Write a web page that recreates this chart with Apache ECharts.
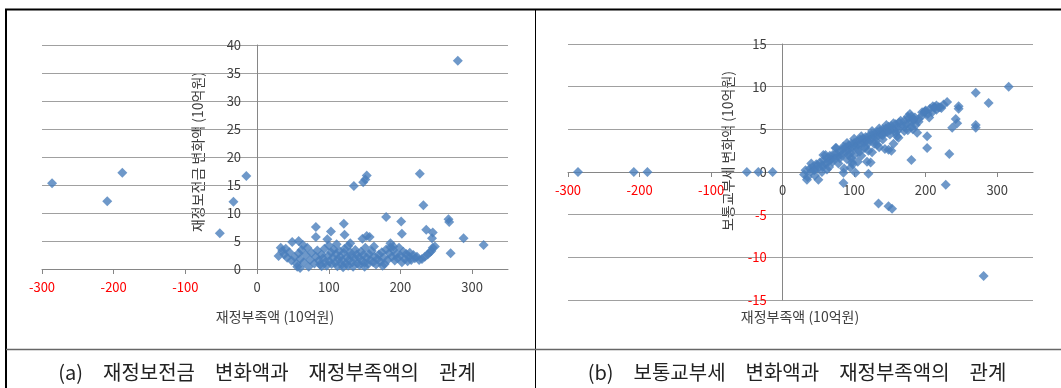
<!DOCTYPE html>
<html><head><meta charset="utf-8">
<script src="https://cdn.jsdelivr.net/npm/echarts@6/dist/echarts.min.js"></script>
<style>html,body{margin:0;padding:0;background:#fff}#c{width:1061px;height:388px}</style>
</head><body><div id="c"></div>
<script>
// ---- data ----
const xTitle = '재정부족액 (10억원)';
const yTitleA = '재정보전금 변화액 (10억원)';
const yTitleB = '보통교부세 변화액 (10억원)';
const captionA = '(a)\u3000재정보전금\u3000변화액과\u3000재정부족액의\u3000관계';
const captionB = '(b)\u3000보통교부세\u3000변화액과\u3000재정부족액의\u3000관계';

// panel (a): [재정부족액, 재정보전금 변화액]
const outliersA = [[-286,15.3],[-209,12.1],[-188,17.2],[-52,6.4],[-33,12.0],[-15,16.6],
  [135,14.8],[148,15.5],[151,16.0],[153,16.7],[227,17.0],[280,37.2],[232,11.4],[180,9.3],
  [201,8.5],[267,8.9],[268,8.4],[202,6.3],[236,7.0],[245,6.5],[244,5.5],[288,5.5],[316,4.3],
  [270,2.8],[82,7.5],[121,8.1],[103,6.7],[122,6.1],[82,5.7],[98,5.3],[130,4.6],[147,5.4],
  [153,5.9],[157,5.7],[49,4.8],[58,5.0],[33,3.8],[163,4.0],[30,2.3],[72,0.4],[56,0.4],
  [245,3.8],[243,3.2],[230,1.8],[213,2.9],[186,4.6],[190,4.0]];
const bandA = [[35,3.2],[38,2.6],[42,2.0],[45,3.0],[48,1.5],[52,2.2],[55,1.0],[58,2.8],[60,1.8],
  [62,3.4],[65,1.2],[68,2.5],[70,3.8],[74,1.6],[76,2.9],[80,1.0],[82,2.2],[84,3.3],[86,1.5],
  [88,0.8],[90,2.6],[92,1.9],[94,3.6],[95,1.2],[97,0.6],[99,2.3],[100,4.2],[101,1.4],[103,3.0],
  [104,0.9],[106,2.0],[107,3.5],[109,1.1],[110,2.7],[112,0.5],[113,1.8],[115,3.2],[116,2.2],
  [118,0.8],[119,1.5],[121,2.9],[122,3.6],[124,1.0],[125,2.1],[127,0.6],[128,1.6],[130,3.0],
  [131,2.4],[133,1.2],[134,0.4],[136,1.9],[137,3.4],[139,2.6],[140,1.0],[142,2.0],[143,0.7],
  [145,3.1],[146,1.5],[148,2.5],[150,1.1],[151,3.8],[153,2.0],[155,0.9],[156,2.7],[158,1.6],
  [160,3.2],[162,1.2],[164,2.2],[166,0.8],[168,1.8],[170,2.6],[172,1.3],[174,3.0],[176,2.0],
  [178,0.9],[180,3.5],[182,1.6],[184,2.8],[186,3.9],[188,2.2],[190,3.4],[192,1.5],[194,2.6],
  [196,1.9],[198,3.8],[200,2.4],[202,1.2],[204,3.1],[206,1.8],[208,2.7],[210,1.4],[212,2.2],
  [215,1.6],[218,2.5],[220,1.9],[223,2.2],[226,1.6],[234,2.2],[238,2.6],[241,3.0],[248,4.0],
  [60,0.2],[90,0.5],[120,0.3],[150,0.4],[175,0.6],[40,3.6],[64,4.3],[111,4.4],[127,4.1]];

// panel (b): [재정부족액, 보통교부세 변화액]
const outliersB = [[-286,0],[-208,0],[-189,0],[-50,0],[-34,0],[-14,0],[316,10.0],[270,9.3],
  [288,8.1],[230,8.2],[246,7.7],[246,7.4],[242,6.2],[244,5.7],[237,5.2],[270,5.5],[270,5.2],
  [202,4.2],[202,2.8],[233,2.1],[180,1.4],[228,-1.5],[134,-3.7],[148,-4.0],[153,-4.3],
  [281,-12.2],[85,-0.1],[85,-1.3],[34,-0.9],[50,-0.9],[120,-0.2],[123,1.1],[97,1.1],
  [102,-0.1],[148,2.6],[162,4.0],[74,2.8],[57,2.0],[152,2.5]];
const bandB = [[30,-0.3],[32,0.2],[35,-0.6],[38,0.4],[40,0.1],[42,0.6],[45,0.3],[47,0.9],
  [50,0.5],[52,1.1],[55,0.8],[57,1.4],[60,1.0],[62,1.6],[64,1.2],[66,1.9],[68,1.5],[70,2.0],
  [72,1.6],[75,2.2],[77,1.8],[80,2.4],[82,2.0],[84,2.7],[86,2.2],[88,2.9],[90,2.5],[92,3.1],
  [94,2.7],[96,3.3],[98,2.9],[100,3.4],[102,3.0],[104,3.6],[106,3.2],[108,3.8],[110,3.4],
  [112,3.9],[114,3.5],[116,4.1],[118,3.7],[120,4.2],[122,3.8],[124,4.4],[126,4.0],[128,4.5],
  [130,4.1],[132,4.7],[134,4.3],[136,4.8],[138,4.4],[140,5.0],[142,4.6],[144,5.1],[146,4.7],
  [148,5.3],[150,4.9],[152,5.4],[155,5.0],[158,5.6],[160,5.2],[163,5.8],[166,5.4],[170,6.0],
  [173,5.6],[176,6.3],[178,5.8],[180,6.5],[183,6.0],[186,5.5],[190,5.9],[195,6.6],[198,7.0],
  [200,7.2],[203,6.8],[206,7.4],[209,7.0],[212,7.6],[215,7.3],[218,7.6],[222,7.5],
  [90,1.5],[95,0.5],[100,2.0],[105,1.2],[110,1.9],[115,2.8],[120,2.5],[128,3.3],[135,2.9],
  [140,3.8],[155,3.3],[160,4.2],[170,4.8],[175,4.9],[182,5.0],[188,4.6],[96,1.6],[98,0.9],
  [86,0.4],[44,0.2],[49,0.8],[56,0.6],[118,1.2],[125,2.3],[143,2.7],[199,7.1],[213,7.6],[220,7.6],
  [40,1.0],[45,-0.4],[55,0.0],[60,2.0],[65,0.6],[70,1.2],[75,2.8],[80,1.6],[85,3.0],[90,3.4],
  [95,2.2],[100,3.9],[105,2.6],[110,4.2],[115,3.0],[120,3.4],[125,4.8],[130,3.6],[135,5.1],
  [140,4.3],[145,5.5],[150,4.4],[155,5.7],[160,4.8],[165,6.0],[170,5.3],[175,6.5],[180,5.3],
  [185,6.4],[190,6.2],[195,7.0],[205,6.4],[210,7.7],[215,7.8],[225,7.9],[178,6.8],[183,6.2],
  [62,0.3],[78,1.0],[92,2.0],[108,2.4],[132,3.2],[158,4.6]];

// ---- chart ----
const FONT = "'Noto Sans CJK KR', 'Noto Sans', sans-serif";
const GRAY = '#868686';
const chart = echarts.init(document.getElementById('c'), null, {renderer: 'canvas'});

function xAxisFor(gridIndex, offset) {
  return {
    type: 'value', gridIndex, min: -300, max: 350, interval: 100, position: 'bottom', offset,
    axisLine: {show: true, onZero: false, lineStyle: {color: GRAY, width: 1}},
    axisTick: {show: true, length: 5, lineStyle: {color: GRAY}},
    splitLine: {show: false},
    axisLabel: {
      margin: 12, showMaxLabel: false,
      formatter: v => v === 350 ? '' : (v < 0 ? '{r|' + v + '}' : '{k|' + v + '}'),
      rich: {r: {color: '#ff0000', fontSize: 13, fontFamily: FONT},
             k: {color: '#404040', fontSize: 13, fontFamily: FONT}}
    }
  };
}
function yAxisFor(gridIndex, min, max, offset) {
  return {
    type: 'value', gridIndex, min, max, interval: 5, position: 'left', offset,
    axisLine: {show: true, onZero: false, lineStyle: {color: GRAY, width: 1}},
    axisTick: {show: false},
    splitLine: {show: true, lineStyle: {color: '#a0a0a0', width: 1}},
    axisLabel: {
      margin: 16,
      formatter: v => v < 0 ? '{r|' + v + '}' : '{k|' + v + '}',
      rich: {r: {color: '#ff0000', fontSize: 13, fontFamily: FONT},
             k: {color: '#404040', fontSize: 13, fontFamily: FONT}}
    }
  };
}
const marker = {symbol: 'diamond', symbolSize: 10, itemStyle: {color: '#4a7ebb'}};

function line(x1, y1, x2, y2, w, c) {
  return {type: 'line', silent: true, shape: {x1, y1, x2, y2}, style: {stroke: c || '#000', lineWidth: w}};
}
function txt(x, y, text, size, rot, color) {
  return {type: 'text', x, y, rotation: rot || 0, silent: true,
    style: {text, fill: color || '#404040', font: size + 'px ' + FONT, textAlign: 'center', textVerticalAlign: 'middle'}};
}

// grid geometry: x-range -300..350, zero sits 300/650 of the width in
const gA = {left: 42, top: 45, width: 466, height: 224};
const gB = {left: 568, top: 44, width: 465, height: 256};

chart.setOption({
  backgroundColor: '#fff',
  animation: false,
  grid: [gA, gB],
  xAxis: [xAxisFor(0, 0), xAxisFor(1, -gB.height / 2)],
  yAxis: [yAxisFor(0, 0, 40, -gA.width * 300 / 650), yAxisFor(1, -15, 15, -gB.width * 300 / 650)],
  series: [
    Object.assign({type: 'scatter', xAxisIndex: 0, yAxisIndex: 0, data: outliersA.concat(bandA)}, marker),
    Object.assign({type: 'scatter', xAxisIndex: 1, yAxisIndex: 1, data: outliersB.concat(bandB)}, marker)
  ],
  graphic: [
    line(5, 9.5, 1061, 9.5, 2),
    line(6, 9, 6, 388, 2),
    line(535.5, 9, 535.5, 388, 1),
    line(6, 349.5, 1061, 349.5, 1.5, '#666'),
    txt(275, 317, xTitle, 14),
    txt(800, 317, xTitle, 14),
    txt(198, 152, yTitleA, 14, Math.PI / 2),
    txt(728, 151, yTitleB, 14, Math.PI / 2),
    txt(267, 372, captionA, 20, 0, '#222'),
    txt(797, 372, captionB, 20, 0, '#222')
  ]
});
</script></body></html>
